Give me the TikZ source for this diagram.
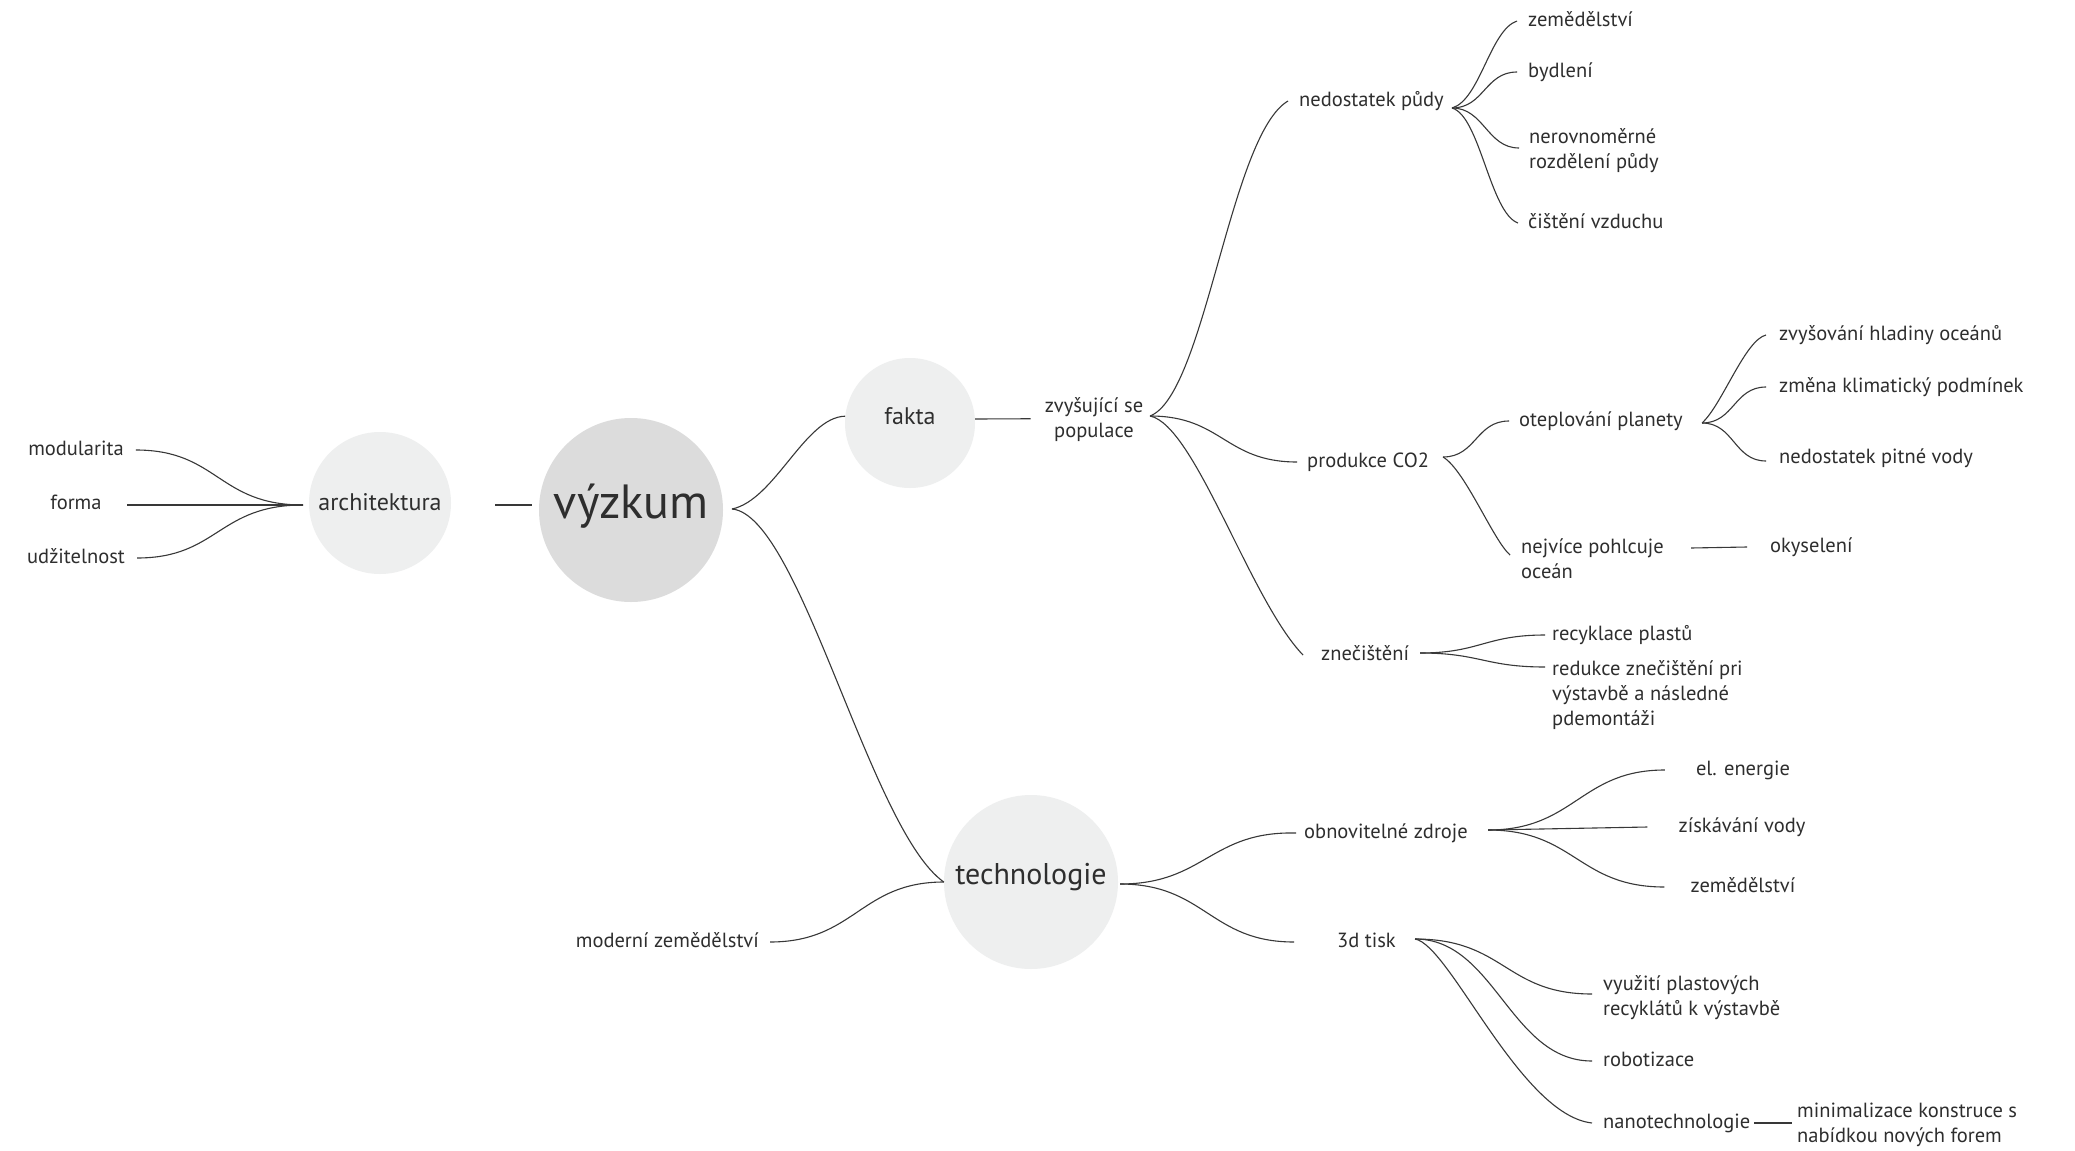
\documentclass[tikz,border=0pt]{standalone}
\usepackage{fontspec}
\setmainfont{PT Sans}
\definecolor{txt}{HTML}{2E2E2E}
\definecolor{ln}{HTML}{383838}
\definecolor{bigc}{HTML}{DCDCDC}
\definecolor{smc}{HTML}{EEEFEF}
\newcommand\mystrut{\rule{0pt}{16pt}}
\begin{document}
\begin{tikzpicture}[x=1pt,y=-1pt,
  lbl/.style={font=\fontsize{20.5}{25}\selectfont, text=txt, inner sep=0pt, text height=14.8pt, text depth=4.1pt, anchor=west},
  lblm/.style={font=\fontsize{20.5}{25}\selectfont, text=txt, inner sep=0pt, align=left, anchor=north west},
  bub/.style={circle, fill=smc, text=txt, inner sep=0pt},
  con/.style={draw=ln, line width=1.1pt},
]
\fill[white] (0,0) rectangle (2075,1151);
\useasboundingbox (0,0) rectangle (2075,1151);

% bubbles
\node[bub, fill=bigc, minimum size=184pt, font=\fontsize{48}{52}\selectfont, text height=36pt, text depth=20pt] (vyz) at (631,510) {výzkum};
\node[bub, minimum size=142pt, font=\fontsize{24}{28}\selectfont, text height=17pt, text depth=3pt] (arch) at (380,503) {architektura};
\node[bub, minimum size=130pt, font=\fontsize{24}{28}\selectfont, text height=17pt, text depth=15pt] (fakta) at (910,423) {fakta};
\node[bub, minimum size=174pt, font=\fontsize{30}{34}\selectfont, text height=22pt, text depth=17pt] (tech) at (1031,882) {technologie};

% left leaves
\node[lbl, anchor=center] (mod) at (76,450) {modularita};
\node[lbl, anchor=center] (forma) at (76,504) {forma};
\node[lbl, anchor=center] (udz) at (76,558) {udžitelnost};

% fakta branch
\node[lblm, anchor=north, align=center] (zvys) at (1094,396) {\mystrut zvyšující se\\populace};
\node[lbl] (nedp) at (1299,101) {nedostatek půdy};
\node[lbl] (prod) at (1307,462) {produkce CO2};
\node[lbl] (znec) at (1321,655) {znečištění};
\node[lbl] (zem) at (1528,21) {zemědělství};
\node[lbl] (byd) at (1528,72) {bydlení};
\node[lblm] (nerov) at (1529,127) {\mystrut nerovnoměrné\\rozdělení půdy};
\node[lbl] (cist) at (1528,223) {čištění vzduchu};
\node[lbl] (otep) at (1519,421) {oteplování planety};
\node[lblm] (nejv) at (1521,537) {\mystrut nejvíce pohlcuje\\oceán};
\node[lbl] (zvh) at (1779,335) {zvyšování hladiny oceánů};
\node[lbl] (zmen) at (1779,387) {změna klimatický podmínek};
\node[lbl] (pitn) at (1779,458) {nedostatek pitné vody};
\node[lbl] (okys) at (1770,547) {okyselení};
\node[lbl] (recy) at (1552,635) {recyklace plastů};
\node[lblm] (redu) at (1552,659) {\mystrut redukce znečištění pri\\výstavbě a následné\\pdemontáži};

% technologie branch
\node[lbl, anchor=east] (mzem) at (759,942) {moderní zemědělství};
\node[lbl] (obnov) at (1304,833) {obnovitelné zdroje};
\node[lbl] (tisk) at (1337,942) {3d tisk};
\node[lbl, anchor=center] (elen) at (1743,770) {el. energie};
\node[lbl, anchor=center] (zisk) at (1742,827) {získávání vody};
\node[lbl, anchor=center] (zem2) at (1743,887) {zemědělství};
\node[lblm] (vyuz) at (1603,974) {\mystrut využití plastových\\recyklátů k výstavbě};
\node[lbl] (robo) at (1603,1061) {robotizace};
\node[lbl] (nano) at (1603,1123) {nanotechnologie};
\node[lblm] (mini) at (1797,1101) {\mystrut minimalizace konstruce s\\nabídkou nových forem};

% hubs
\coordinate (hArch) at (303,505);
\coordinate (hVyz) at (732,509);
\coordinate (hZv) at (1150,416);
\coordinate (hNedp) at (1452,108);
\coordinate (hProd) at (1443,457);
\coordinate (hOtep) at (1702,423);
\coordinate (hZnec) at (1420,653);
\coordinate (hTech) at (1120,884);
\coordinate (hObnov) at (1488,830);
\coordinate (hTisk) at (1415,939);

% connectors: architektura
\draw[con] (hArch) .. controls (218,505) and (218,450) .. ([xshift=12pt]mod.east);
\draw[con] (hArch) -- ([xshift=25pt]forma.east |- hArch);
\draw[con] (hArch) .. controls (218,505) and (218,558) .. ([xshift=12pt]udz.east);
\draw[con] ([xshift=44pt]arch.east |- hArch) -- ([xshift=-7pt]vyz.west |- hArch);

% výzkum
\draw[con] (hVyz) .. controls (775,500) and (805,417) .. (fakta.174);
\draw[con] (hVyz) .. controls (800,515) and (870,830) .. (tech.west);

% fakta
\draw[con] ([yshift=4pt]fakta.east) -- ([xshift=-14pt]zvys.west);
\draw[con] (hZv) .. controls (1205,395) and (1230,135) .. ([xshift=-11pt]nedp.west);
\draw[con] (hZv) .. controls (1222,416) and (1225,462) .. ([xshift=-10pt]prod.west);
\draw[con] (hZv) .. controls (1195,425) and (1250,600) .. ([xshift=-18pt]znec.west);

\draw[con] (hNedp) .. controls (1480,100) and (1490,30) .. ([xshift=-11pt]zem.west);
\draw[con] (hNedp) .. controls (1484,108) and (1485,72) .. ([xshift=-11pt]byd.west);
\draw[con] (hNedp) .. controls (1484,108) and (1487,148) .. ([xshift=-10pt,yshift=-21pt]nerov.north west);
\draw[con] (hNedp) .. controls (1480,116) and (1490,213) .. ([xshift=-10pt]cist.west);

\draw[con] (hProd) .. controls (1476,457) and (1476,421) .. ([xshift=-10pt]otep.west);
\draw[con] (hProd) .. controls (1465,470) and (1493,540) .. ([xshift=-11pt,yshift=-18pt]nejv.north west);

\draw[con] (hOtep) .. controls (1722,405) and (1745,340) .. ([xshift=-13pt]zvh.west);
\draw[con] (hOtep) .. controls (1734,423) and (1734,387) .. ([xshift=-13pt]zmen.west);
\draw[con] (hOtep) .. controls (1734,423) and (1734,461) .. ([xshift=-13pt,yshift=-3pt]pitn.west);

\draw[con] ([xshift=27pt,yshift=-11pt]nejv.north east) -- ([xshift=-23pt]okys.west);

\draw[con] (hZnec) .. controls (1480,653) and (1485,635) .. ([xshift=-7pt]recy.west);
\draw[con] (hZnec) .. controls (1480,653) and (1485,667) .. ([xshift=-7pt,yshift=-8pt]redu.north west);

% technologie
\draw[con] (tech.west) .. controls (860,882) and (855,942) .. ([xshift=11pt]mzem.east);
\draw[con] (hTech) .. controls (1205,884) and (1210,831) .. ([xshift=-8pt]obnov.west);
\draw[con] (hTech) .. controls (1205,884) and (1210,942) .. ([xshift=-43pt]tisk.west);

\draw[con] (hObnov) .. controls (1575,830) and (1580,770) .. ([xshift=-31pt]elen.west);
\draw[con] (hObnov) -- ([xshift=-31pt]zisk.west);
\draw[con] (hObnov) .. controls (1575,830) and (1578,887) .. ([xshift=-26pt]zem2.west);

\draw[con] (hTisk) .. controls (1505,939) and (1505,994) .. ([xshift=-11pt,yshift=-20pt]vyuz.north west);
\draw[con] (hTisk) .. controls (1495,939) and (1510,1061) .. ([xshift=-11pt]robo.west);
\draw[con] (hTisk) .. controls (1450,945) and (1520,1115) .. ([xshift=-11pt]nano.west);
\draw[con] ([xshift=4pt]nano.east) -- ([xshift=-5pt,yshift=-22pt]mini.north west);
\end{tikzpicture}
\end{document}
